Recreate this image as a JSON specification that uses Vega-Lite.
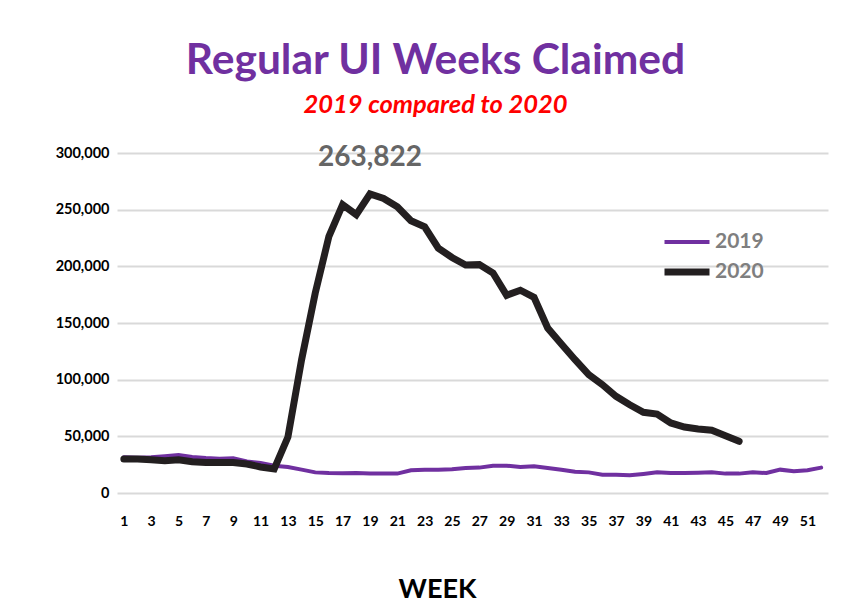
{
  "$schema": "https://vega.github.io/schema/vega-lite/v6.json",
  "autosize": {"type": "none"},
  "width": 711,
  "height": 340,
  "padding": {"left": 117, "top": 153, "right": 30, "bottom": 114},
  "background": "white",
  "title": {
    "text": "Regular UI Weeks Claimed",
    "subtitle": "2019 compared to 2020",
    "anchor": "middle",
    "frame": "group",
    "dx": -37,
    "offset": 26,
    "font": "Lato",
    "fontSize": 42.5,
    "fontWeight": "bold",
    "color": "#7030A0",
    "subtitleFont": "Lato",
    "subtitleFontSize": 25.5,
    "subtitleFontWeight": "bold",
    "subtitleFontStyle": "italic",
    "subtitleColor": "#FF0000",
    "subtitlePadding": 10
  },
  "config": {
    "view": {"stroke": null},
    "font": "Lato"
  },
  "datasets": {
    "series": [
      {"week": 1, "year": "2019", "claims": 31500},
      {"week": 2, "year": "2019", "claims": 31000},
      {"week": 3, "year": "2019", "claims": 31500},
      {"week": 4, "year": "2019", "claims": 32500},
      {"week": 5, "year": "2019", "claims": 33500},
      {"week": 6, "year": "2019", "claims": 31800},
      {"week": 7, "year": "2019", "claims": 30900},
      {"week": 8, "year": "2019", "claims": 30300},
      {"week": 9, "year": "2019", "claims": 30600},
      {"week": 10, "year": "2019", "claims": 27900},
      {"week": 11, "year": "2019", "claims": 26500},
      {"week": 12, "year": "2019", "claims": 24100},
      {"week": 13, "year": "2019", "claims": 22900},
      {"week": 14, "year": "2019", "claims": 20600},
      {"week": 15, "year": "2019", "claims": 18200},
      {"week": 16, "year": "2019", "claims": 17600},
      {"week": 17, "year": "2019", "claims": 17400},
      {"week": 18, "year": "2019", "claims": 17600},
      {"week": 19, "year": "2019", "claims": 17100},
      {"week": 20, "year": "2019", "claims": 17100},
      {"week": 21, "year": "2019", "claims": 17100},
      {"week": 22, "year": "2019", "claims": 20000},
      {"week": 23, "year": "2019", "claims": 20600},
      {"week": 24, "year": "2019", "claims": 20600},
      {"week": 25, "year": "2019", "claims": 20900},
      {"week": 26, "year": "2019", "claims": 22100},
      {"week": 27, "year": "2019", "claims": 22400},
      {"week": 28, "year": "2019", "claims": 24100},
      {"week": 29, "year": "2019", "claims": 24100},
      {"week": 30, "year": "2019", "claims": 22900},
      {"week": 31, "year": "2019", "claims": 23500},
      {"week": 32, "year": "2019", "claims": 22100},
      {"week": 33, "year": "2019", "claims": 20600},
      {"week": 34, "year": "2019", "claims": 18800},
      {"week": 35, "year": "2019", "claims": 18200},
      {"week": 36, "year": "2019", "claims": 16200},
      {"week": 37, "year": "2019", "claims": 16200},
      {"week": 38, "year": "2019", "claims": 15600},
      {"week": 39, "year": "2019", "claims": 16800},
      {"week": 40, "year": "2019", "claims": 18200},
      {"week": 41, "year": "2019", "claims": 17600},
      {"week": 42, "year": "2019", "claims": 17600},
      {"week": 43, "year": "2019", "claims": 17900},
      {"week": 44, "year": "2019", "claims": 18200},
      {"week": 45, "year": "2019", "claims": 17100},
      {"week": 46, "year": "2019", "claims": 17100},
      {"week": 47, "year": "2019", "claims": 18200},
      {"week": 48, "year": "2019", "claims": 17600},
      {"week": 49, "year": "2019", "claims": 20600},
      {"week": 50, "year": "2019", "claims": 19100},
      {"week": 51, "year": "2019", "claims": 20000},
      {"week": 52, "year": "2019", "claims": 22400},
      {"week": 1, "year": "2020", "claims": 30000},
      {"week": 2, "year": "2020", "claims": 30000},
      {"week": 3, "year": "2020", "claims": 29400},
      {"week": 4, "year": "2020", "claims": 28500},
      {"week": 5, "year": "2020", "claims": 29400},
      {"week": 6, "year": "2020", "claims": 27600},
      {"week": 7, "year": "2020", "claims": 27000},
      {"week": 8, "year": "2020", "claims": 27000},
      {"week": 9, "year": "2020", "claims": 27000},
      {"week": 10, "year": "2020", "claims": 25600},
      {"week": 11, "year": "2020", "claims": 23000},
      {"week": 12, "year": "2020", "claims": 21200},
      {"week": 13, "year": "2020", "claims": 49400},
      {"week": 14, "year": "2020", "claims": 117600},
      {"week": 15, "year": "2020", "claims": 176500},
      {"week": 16, "year": "2020", "claims": 226500},
      {"week": 17, "year": "2020", "claims": 254500},
      {"week": 18, "year": "2020", "claims": 245600},
      {"week": 19, "year": "2020", "claims": 263822},
      {"week": 20, "year": "2020", "claims": 259900},
      {"week": 21, "year": "2020", "claims": 252500},
      {"week": 22, "year": "2020", "claims": 240200},
      {"week": 23, "year": "2020", "claims": 234800},
      {"week": 24, "year": "2020", "claims": 216000},
      {"week": 25, "year": "2020", "claims": 207800},
      {"week": 26, "year": "2020", "claims": 201200},
      {"week": 27, "year": "2020", "claims": 201500},
      {"week": 28, "year": "2020", "claims": 194100},
      {"week": 29, "year": "2020", "claims": 174400},
      {"week": 30, "year": "2020", "claims": 178900},
      {"week": 31, "year": "2020", "claims": 172600},
      {"week": 32, "year": "2020", "claims": 145600},
      {"week": 33, "year": "2020", "claims": 131500},
      {"week": 34, "year": "2020", "claims": 117600},
      {"week": 35, "year": "2020", "claims": 104400},
      {"week": 36, "year": "2020", "claims": 95600},
      {"week": 37, "year": "2020", "claims": 85300},
      {"week": 38, "year": "2020", "claims": 77900},
      {"week": 39, "year": "2020", "claims": 71200},
      {"week": 40, "year": "2020", "claims": 69700},
      {"week": 41, "year": "2020", "claims": 61800},
      {"week": 42, "year": "2020", "claims": 58200},
      {"week": 43, "year": "2020", "claims": 56500},
      {"week": 44, "year": "2020", "claims": 55400},
      {"week": 45, "year": "2020", "claims": 50600},
      {"week": 46, "year": "2020", "claims": 45600}
    ],
    "peak": [
      {"week": 19, "claims": 263822, "label": "263,822"}
    ]
  },
  "encoding": {
    "x": {
      "field": "week",
      "type": "quantitative",
      "scale": {"domain": [0.5, 52.5], "nice": false, "zero": false},
      "axis": {
        "title": "WEEK",
        "values": [1,3,5,7,9,11,13,15,17,19,21,23,25,27,29,31,33,35,37,39,41,43,45,47,49,51],
        "grid": false,
        "domain": false,
        "ticks": false,
        "labelFont": "Lato",
        "labelFontSize": 14,
        "labelFontWeight": "bold",
        "labelColor": "#000000",
        "labelPadding": 21,
        "labelFlush": false,
        "labelOverlap": false,
        "labelBound": false,
        "titleFont": "Lato",
        "titleFontSize": 27,
        "titleFontWeight": "bold",
        "titleColor": "#000000",
        "titlePadding": 48,
        "titleX": 320
      }
    },
    "y": {
      "field": "claims",
      "type": "quantitative",
      "scale": {"domain": [0, 300000], "nice": false},
      "axis": {
        "title": null,
        "values": [0, 50000, 100000, 150000, 200000, 250000, 300000],
        "format": ",d",
        "domain": false,
        "ticks": false,
        "gridColor": "#d9d9d9",
        "gridWidth": 2,
        "labelFont": "Lato",
        "labelFontSize": 14.5,
        "labelFontWeight": "bold",
        "labelColor": "#000000",
        "labelPadding": 8
      }
    }
  },
  "layer": [
    {
      "data": {"name": "series"},
      "mark": {"type": "line", "strokeJoin": "miter", "strokeCap": "round"},
      "encoding": {
        "color": {
          "field": "year",
          "type": "nominal",
          "scale": {"domain": ["2019", "2020"], "range": ["#7030A0", "#231F20"]},
          "legend": {
            "title": null,
            "orient": "none",
            "legendX": 544,
            "legendY": 74,
            "symbolType": "stroke",
            "symbolSize": 2025,
            "symbolLimit": 0,
            "labelFont": "Lato",
            "labelFontSize": 21,
            "labelFontWeight": "bold",
            "labelColor": "#7f7f7f",
            "labelOffset": 2,
            "labelLimit": 100,
            "rowPadding": 0,
            "clipHeight": 30
          }
        },
        "strokeWidth": {
          "field": "year",
          "type": "nominal",
          "scale": {"domain": ["2019", "2020"], "range": [4, 7]},
          "legend": null
        }
      }
    },
    {
      "data": {"name": "peak"},
      "mark": {"type": "text", "dy": -36, "font": "Lato", "fontSize": 28, "fontWeight": "bold", "color": "#666666"},
      "encoding": {
        "text": {"field": "label"}
      }
    }
  ]
}
